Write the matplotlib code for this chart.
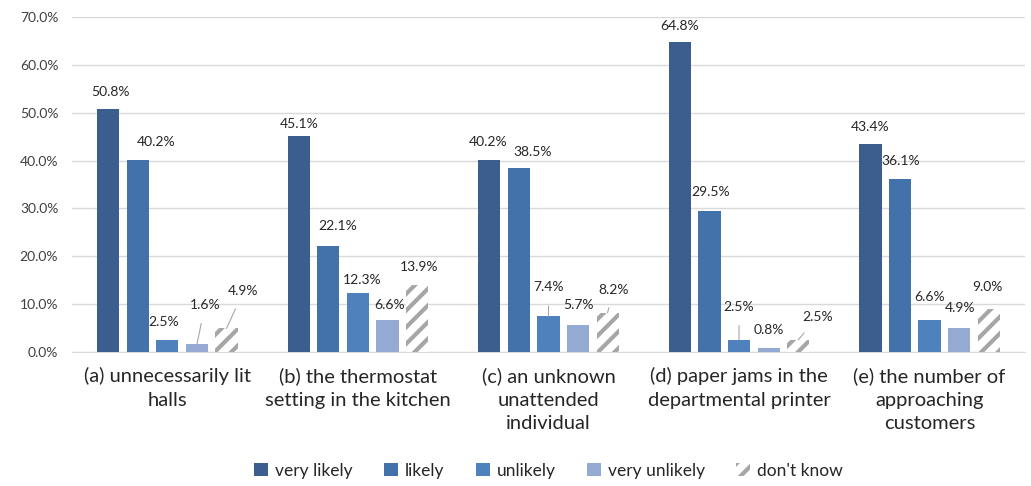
import matplotlib
matplotlib.use("Agg")
import matplotlib.pyplot as plt
import numpy as np
from matplotlib.ticker import PercentFormatter

plt.rcParams['font.family'] = ['Lato', 'DejaVu Sans']
plt.rcParams['hatch.color'] = '#A6A6A6'
plt.rcParams['hatch.linewidth'] = 3.0

categories = ["(a) unnecessarily lit\nhalls",
              "(b) the thermostat\nsetting in the kitchen",
              "(c) an unknown\nunattended\nindividual",
              "(d) paper jams in the\ndepartmental printer",
              "(e) the number of\napproaching\ncustomers"]
series_names = ["very likely", "likely", "unlikely", "very unlikely", "don't know"]
very_likely = [50.8, 45.1, 40.2, 64.8, 43.4]
likely = [40.2, 22.1, 38.5, 29.5, 36.1]
unlikely = [2.5, 12.3, 7.4, 2.5, 6.6]
very_unlikely = [1.6, 6.6, 5.7, 0.8, 4.9]
dont_know = [4.9, 13.9, 8.2, 2.5, 9.0]
series = [very_likely, likely, unlikely, very_unlikely, dont_know]

colors = ["#3B5E8E", "#4372AA", "#4F81BD", "#95AAD2", "white"]

# label offsets in pixels (dx, dy) from the top centre of each bar, per series
offsets = [
    [(2, 17), (0, 12), (-1, 18), (0, 16), (0, 17)],
    [(18, 18), (9, 20), (14, 16), (1, 19), (1, 18)],
    [(-4, 18), (4, 13), (0, 29), (0, 33), (0, 23)],
    [(8, 39), (2, 15), (0, 20), (0, 18), (1, 20)],
    [(17, 37), (2, 18), (6, 23), (20, 23), (-1, 22)],
]
leaders = {(3, 0), (4, 0), (2, 2), (4, 2), (2, 3), (4, 3)}

fig = plt.figure(figsize=(10.31, 4.86), dpi=100)
ax = fig.add_axes([0.070, 0.276, 0.924, 0.689])

x = np.arange(len(categories))
step = 0.155
width = 0.116
for i, (name, vals) in enumerate(zip(series_names, series)):
    pos = x + (i - 2) * step
    if i == 4:
        bars = ax.bar(pos, vals, width, color="white", hatch="//", edgecolor="#A6A6A6",
                      linewidth=0, label=name, zorder=3)
    else:
        bars = ax.bar(pos, vals, width, color=colors[i], label=name, zorder=3)
    for j, (p, v) in enumerate(zip(pos, vals)):
        dx, dy = offsets[i][j]
        props = None
        if (i, j) in leaders:
            props = dict(arrowstyle="-", color="#A6A6A6", lw=0.8, shrinkA=7, shrinkB=0)
        ax.annotate(f"{v:.1f}%", xy=(p, v), xytext=(dx, dy), textcoords="offset pixels",
                    ha="center", va="center", fontsize=10, color="#262626",
                    arrowprops=props, zorder=4)

ax.set_ylim(0, 70)
ax.set_yticks(np.arange(0, 71, 10))
ax.yaxis.set_major_formatter(PercentFormatter(decimals=1))
ax.set_xlim(-0.5, len(categories) - 0.5)
ax.set_xticks(x)
ax.set_xticklabels(categories, fontsize=14.5, color="#262626", linespacing=1.48)
ax.tick_params(axis="y", length=0, labelsize=10, labelcolor="#404040", pad=10)
ax.tick_params(axis="x", length=0, pad=11)
ax.grid(axis="y", color="#D9D9D9", linewidth=1, zorder=0)
for s in ["left", "right", "top"]:
    ax.spines[s].set_visible(False)
ax.spines["bottom"].set_color("#D9D9D9")

ax.legend(loc="lower center", bbox_to_anchor=(0.5, -0.425), ncol=5, frameon=False,
          fontsize=12.5, handlelength=0.8, handleheight=0.8, handletextpad=0.4,
          columnspacing=1.8, labelcolor="#262626")

fig.savefig("out.png", dpi=100)
